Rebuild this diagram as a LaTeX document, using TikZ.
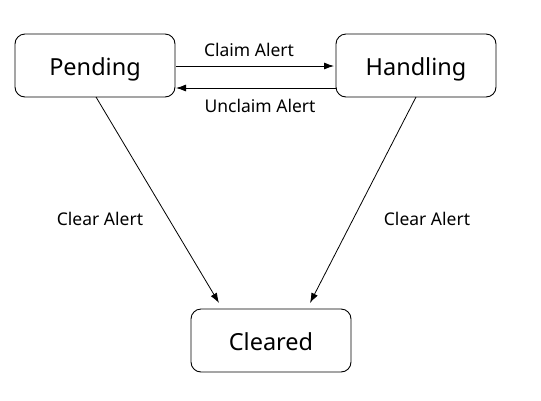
\documentclass[tikz,border=0pt]{standalone}
\usepackage{fontspec}
\setmainfont{Noto Sans}
\usetikzlibrary{arrows.meta}
\begin{document}
\begin{tikzpicture}[x=1pt,y=-1pt,
  state/.style={draw, line width=0.9pt, rounded corners=10pt, minimum width=160pt, minimum height=63pt, inner sep=0pt, text depth=0pt, font=\fontsize{23.5}{28}\selectfont},
  trans/.style={draw, line width=0.8pt, -{Latex[length=10pt,width=7pt]}},
  lbl/.style={font=\fontsize{17.5}{21}\selectfont, inner sep=0pt}]
\useasboundingbox[fill=white] (0,0) rectangle (541,400);
\node[state] (pending) at (95,65.5) {\raisebox{-3pt}{Pending}};
\node[state] (handling) at (416,65.5) {\raisebox{-3pt}{Handling}};
\node[state] (cleared) at (271,340.5) {\raisebox{-3pt}{Cleared}};
\coordinate (p1) at (176,66);
\coordinate (h1) at (334,66);
\coordinate (h2) at (336,88);
\coordinate (p2) at (176,88);
\coordinate (pb) at (96,97);
\coordinate (ct1) at (219,303);
\coordinate (hb) at (416,97);
\coordinate (ct2) at (310,303);
\draw[trans] (p1) -- (h1);
\draw[trans] (h2) -- (p2);
\draw[trans] (pb) -- (ct1);
\draw[trans] (hb) -- (ct2);
\node[lbl] (l1) at (249,50) {Claim Alert};
\node[lbl] (l2) at (260,106) {Unclaim Alert};
\node[lbl] (l3) at (100,219) {Clear Alert};
\node[lbl] (l4) at (427,219) {Clear Alert};
\end{tikzpicture}
\end{document}
